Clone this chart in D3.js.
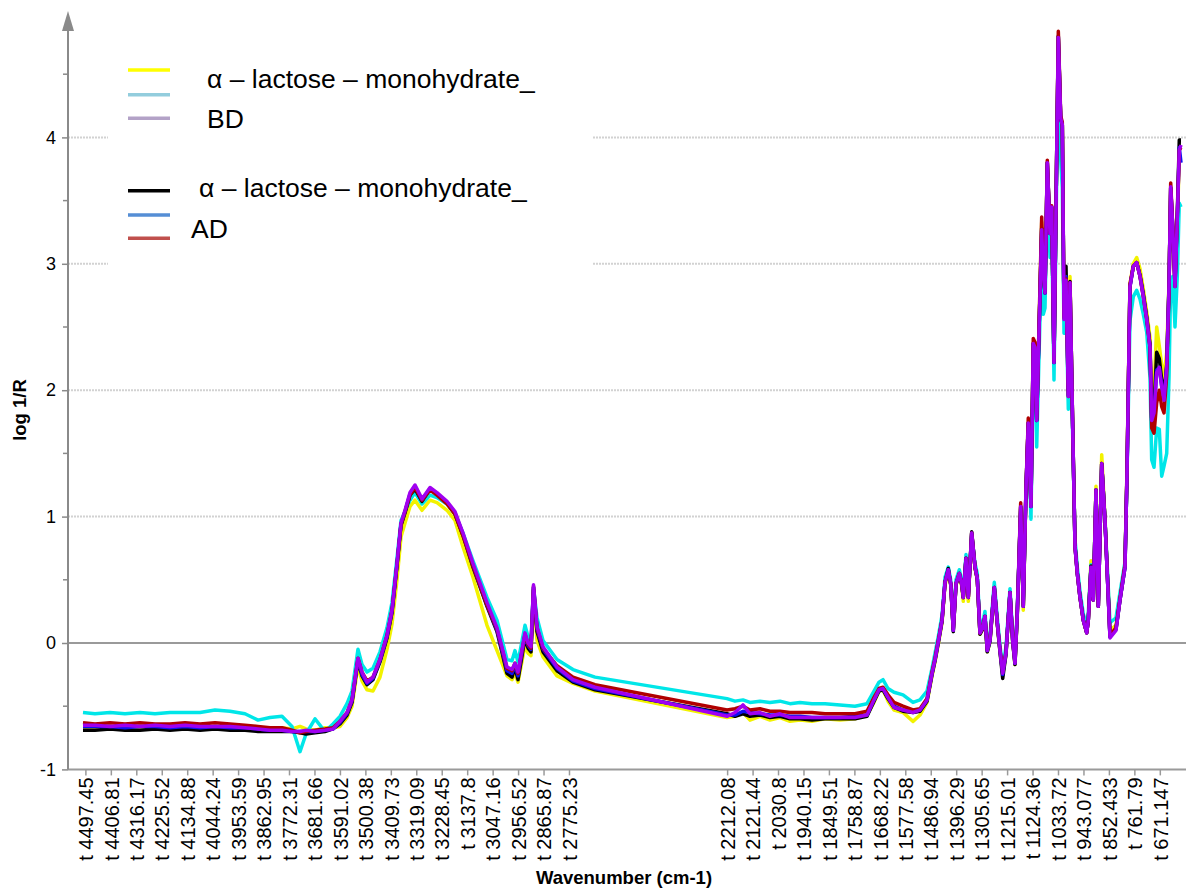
<!DOCTYPE html>
<html>
<head>
<meta charset="utf-8">
<script src="https://d3js.org/d3.v7.min.js"></script>
<style>
  body { margin: 0; background: #fff; }
  svg text { font-family: "Liberation Sans", Arial, sans-serif; }
</style>
</head>
<body>
<svg id="chart" width="1186" height="890"></svg>
<script>
// wavenumber grid (cm-1) shared by all six spectra
const wavenumbers = [
  4506.0, 4463.3, 4409.8, 4356.4, 4303.0, 4249.6, 4196.2, 4142.7, 4089.3, 4035.9,
  3982.5, 3929.1, 3882.8, 3840.0, 3797.3, 3761.7, 3733.2, 3711.8, 3679.8, 3644.2, 3615.7, 3590.8,
  3565.8, 3548.0, 3526.7, 3512.4, 3494.6, 3473.2, 3448.3, 3423.4, 3405.6, 3387.8, 3373.5, 3359.2,
  3341.4, 3323.6, 3298.7, 3270.2, 3245.3, 3209.7, 3181.2, 3152.7, 3117.1, 3067.2, 3031.6,
  2996.0, 2978.2, 2967.5, 2956.8, 2931.9, 2921.2, 2910.6, 2901.6, 2889.2, 2867.8, 2818.0, 2761.0, 2682.6,
  2212.5, 2184.0, 2155.6, 2130.6, 2095.0, 2059.4, 2023.8, 1988.2, 1952.6, 1909.8, 1863.5, 1810.1, 1756.7, 1714.0,
  1689.0, 1671.2, 1657.0, 1639.2, 1617.8, 1585.7, 1550.1, 1525.2, 1500.2, 1482.4, 1471.7, 1459.3,
  1446.8, 1436.1, 1424.4, 1415.8, 1406.6, 1397.0, 1385.2, 1376.7, 1371.0, 1361.4, 1353.2, 1341.1,
  1329.3, 1321.2, 1311.6, 1302.0, 1293.8, 1285.6, 1276.0, 1260.6, 1249.9, 1240.3, 1230.7, 1219.0,
  1204.7, 1195.1, 1186.9, 1178.7, 1166.6, 1157.4, 1147.8, 1139.6, 1130.0, 1121.8, 1115.7, 1109.6,
  1091.8, 1086.1, 1080.0, 1071.8, 1062.2, 1056.2, 1048.0, 1038.3, 1032.6, 1024.1, 1018.4, 1012.3,
  1005.2, 997.0, 991.0, 981.3, 973.1, 964.9, 955.3, 943.6, 931.5, 925.8, 916.2, 908.0,
  898.4, 890.2, 878.1, 866.4, 848.6, 827.2, 813.0, 795.2, 788.1, 777.4, 765.6, 753.5,
  741.7, 729.9, 717.8, 706.1, 700.1, 691.8, 682.3, 673.0, 664.4, 656.2, 646.6, 638.4,
  632.4, 625.3, 617.1, 608.9, 601.8, 595.7
];

// BD replicates (log 1/R)
const bd1 = [
  -0.68, -0.68, -0.67, -0.68, -0.67, -0.68, -0.68, -0.67, -0.68, -0.67,
  -0.68, -0.68, -0.68, -0.69, -0.67, -0.68, -0.66, -0.68, -0.69, -0.67, -0.67, -0.66,
  -0.59, -0.50, -0.18, -0.30, -0.37, -0.38, -0.27, -0.05, 0.15, 0.50, 0.84, 0.95,
  1.08, 1.13, 1.05, 1.13, 1.11, 1.05, 0.97, 0.76, 0.52, 0.14, -0.06,
  -0.26, -0.29, -0.24, -0.31, -0.02, -0.08, -0.10, 0.40, 0.02, -0.11, -0.26, -0.32, -0.38,
  -0.59, -0.58, -0.55, -0.61, -0.58, -0.61, -0.59, -0.62, -0.61, -0.62, -0.60, -0.61, -0.60, -0.57,
  -0.47, -0.38, -0.37, -0.46, -0.53, -0.55, -0.62, -0.57, -0.47, -0.26, -0.15, 0.00,
  0.16, 0.46, 0.56, 0.46, 0.11, 0.46, 0.54, 0.45, 0.33, 0.66, 0.33, 0.87,
  0.59, 0.50, 0.07, 0.11, 0.20, -0.07, 0.01, 0.43, 0.15, -0.07, -0.25, -0.09,
  0.40, 0.01, -0.17, 0.22, 1.06, 0.26, 1.19, 1.72, 1.07, 2.36, 2.33, 1.75,
  3.33, 2.93, 2.77, 3.78, 3.22, 3.43, 2.21, 3.87, 4.78, 4.14, 4.09, 2.55,
  2.88, 1.94, 2.90, 1.68, 0.78, 0.56, 0.37, 0.19, 0.09, 0.19, 0.65, 0.36,
  1.24, 0.30, 1.49, 0.99, 0.10, 0.14, 0.36, 0.62, 1.35, 2.84, 3.00, 3.05,
  2.96, 2.80, 2.62, 2.42, 1.90, 2.00, 2.50, 2.35, 2.20, 2.10, 2.30, 2.85,
  3.55, 3.25, 2.90, 3.30, 3.85, 3.85
];
const bd2 = [
  -0.55, -0.56, -0.55, -0.56, -0.55, -0.56, -0.55, -0.55, -0.55, -0.53,
  -0.54, -0.56, -0.61, -0.59, -0.58, -0.66, -0.86, -0.72, -0.60, -0.70, -0.64, -0.58,
  -0.48, -0.38, -0.05, -0.17, -0.23, -0.20, -0.07, 0.12, 0.32, 0.67, 0.97, 1.04,
  1.13, 1.19, 1.10, 1.17, 1.15, 1.10, 1.02, 0.87, 0.65, 0.36, 0.18,
  -0.13, -0.14, -0.06, -0.15, 0.14, 0.05, 0.02, 0.44, 0.20, 0.02, -0.13, -0.21, -0.27,
  -0.44, -0.46, -0.45, -0.47, -0.46, -0.47, -0.46, -0.48, -0.47, -0.48, -0.48, -0.49, -0.50, -0.48,
  -0.38, -0.31, -0.29, -0.36, -0.39, -0.41, -0.47, -0.45, -0.38, -0.20, -0.08, 0.06,
  0.22, 0.52, 0.60, 0.50, 0.14, 0.50, 0.58, 0.50, 0.39, 0.70, 0.39, 0.85,
  0.63, 0.55, 0.12, 0.16, 0.25, -0.02, 0.06, 0.48, 0.20, -0.02, -0.19, -0.03,
  0.43, 0.06, -0.12, 0.28, 1.04, 0.32, 1.18, 1.70, 0.98, 2.20, 2.15, 1.55,
  3.10, 2.60, 2.65, 3.60, 3.05, 3.30, 2.08, 3.70, 4.70, 3.82, 3.60, 2.45,
  2.75, 1.85, 2.70, 1.62, 0.82, 0.60, 0.41, 0.23, 0.14, 0.24, 0.62, 0.38,
  1.21, 0.33, 1.40, 0.98, 0.16, 0.20, 0.40, 0.64, 1.30, 2.55, 2.74, 2.79,
  2.72, 2.60, 2.46, 2.10, 1.45, 1.39, 1.70, 1.69, 1.32, 1.40, 1.50, 2.10,
  2.85, 2.90, 2.50, 2.90, 3.48, 3.45
];
const bd3 = [
  -0.65, -0.65, -0.66, -0.65, -0.66, -0.65, -0.66, -0.65, -0.66, -0.66,
  -0.66, -0.67, -0.68, -0.69, -0.69, -0.70, -0.70, -0.69, -0.70, -0.69, -0.68, -0.62,
  -0.55, -0.45, -0.12, -0.23, -0.31, -0.27, -0.13, 0.06, 0.26, 0.63, 0.95, 1.05,
  1.19, 1.25, 1.14, 1.23, 1.19, 1.12, 1.04, 0.87, 0.63, 0.32, 0.12,
  -0.19, -0.21, -0.16, -0.23, 0.08, 0.00, -0.03, 0.46, 0.13, -0.03, -0.19, -0.29, -0.35,
  -0.58, -0.55, -0.49, -0.56, -0.55, -0.58, -0.56, -0.59, -0.59, -0.59, -0.59, -0.59, -0.59, -0.57,
  -0.45, -0.37, -0.36, -0.43, -0.51, -0.53, -0.55, -0.53, -0.45, -0.24, -0.13, 0.02,
  0.18, 0.48, 0.58, 0.47, 0.10, 0.47, 0.55, 0.47, 0.36, 0.67, 0.36, 0.87,
  0.60, 0.51, 0.08, 0.12, 0.21, -0.06, 0.02, 0.44, 0.16, -0.06, -0.24, -0.08,
  0.40, 0.02, -0.16, 0.24, 1.08, 0.29, 1.21, 1.74, 1.08, 2.37, 2.34, 1.76,
  3.27, 2.93, 2.77, 3.80, 3.24, 3.45, 2.22, 3.88, 4.79, 4.15, 4.10, 2.56,
  2.87, 1.95, 2.85, 1.69, 0.76, 0.55, 0.36, 0.18, 0.08, 0.18, 0.60, 0.34,
  1.21, 0.29, 1.42, 0.97, 0.04, 0.10, 0.34, 0.60, 1.32, 2.82, 2.98, 3.01,
  2.90, 2.74, 2.56, 2.34, 1.76, 1.82, 2.14, 2.18, 2.03, 1.92, 2.18, 2.82,
  3.61, 3.29, 2.82, 3.35, 3.90, 3.94
];

// AD replicates (log 1/R)
const ad1 = [
  -0.69, -0.69, -0.68, -0.69, -0.69, -0.68, -0.69, -0.68, -0.69, -0.68,
  -0.69, -0.69, -0.70, -0.70, -0.70, -0.70, -0.71, -0.72, -0.71, -0.70, -0.68, -0.64,
  -0.57, -0.47, -0.14, -0.26, -0.33, -0.29, -0.15, 0.04, 0.24, 0.61, 0.93, 1.03,
  1.17, 1.22, 1.12, 1.22, 1.18, 1.11, 1.02, 0.85, 0.60, 0.29, 0.09,
  -0.24, -0.27, -0.19, -0.29, 0.04, -0.04, -0.07, 0.42, 0.09, -0.07, -0.22, -0.31, -0.37,
  -0.56, -0.58, -0.56, -0.58, -0.57, -0.59, -0.58, -0.60, -0.60, -0.61, -0.60, -0.60, -0.60, -0.58,
  -0.46, -0.38, -0.37, -0.44, -0.51, -0.54, -0.55, -0.54, -0.46, -0.25, -0.14, 0.01,
  0.17, 0.48, 0.59, 0.46, 0.09, 0.46, 0.55, 0.46, 0.36, 0.67, 0.36, 0.88,
  0.60, 0.51, 0.07, 0.11, 0.21, -0.07, 0.01, 0.44, 0.15, -0.07, -0.28, -0.09,
  0.40, 0.01, -0.17, 0.23, 1.08, 0.29, 1.21, 1.74, 1.08, 2.37, 2.34, 1.76,
  3.28, 2.90, 2.77, 3.80, 3.24, 3.45, 2.22, 3.88, 4.80, 4.15, 4.10, 2.60,
  2.98, 2.00, 2.86, 1.70, 0.77, 0.55, 0.36, 0.18, 0.08, 0.18, 0.61, 0.34,
  1.21, 0.29, 1.42, 0.97, 0.05, 0.11, 0.34, 0.60, 1.33, 2.82, 2.98, 3.01,
  2.91, 2.76, 2.58, 2.36, 1.78, 1.85, 2.30, 2.25, 2.08, 1.96, 2.20, 2.84,
  3.60, 3.30, 2.85, 3.40, 3.98, 3.98
];
const ad2 = [
  -0.66, -0.66, -0.66, -0.67, -0.66, -0.66, -0.67, -0.66, -0.67, -0.66,
  -0.67, -0.67, -0.68, -0.69, -0.69, -0.70, -0.70, -0.70, -0.70, -0.69, -0.68, -0.63,
  -0.56, -0.46, -0.13, -0.25, -0.32, -0.28, -0.14, 0.05, 0.25, 0.62, 0.94, 1.04,
  1.18, 1.24, 1.13, 1.22, 1.18, 1.11, 1.03, 0.86, 0.61, 0.30, 0.10,
  -0.22, -0.24, -0.18, -0.26, 0.06, -0.02, -0.05, 0.44, 0.11, -0.05, -0.20, -0.30, -0.36,
  -0.57, -0.57, -0.54, -0.55, -0.56, -0.57, -0.57, -0.58, -0.58, -0.59, -0.59, -0.59, -0.58, -0.57,
  -0.45, -0.37, -0.36, -0.43, -0.50, -0.53, -0.54, -0.53, -0.45, -0.24, -0.13, 0.02,
  0.18, 0.48, 0.58, 0.47, 0.10, 0.47, 0.55, 0.47, 0.36, 0.67, 0.36, 0.87,
  0.60, 0.51, 0.08, 0.12, 0.21, -0.06, 0.02, 0.44, 0.16, -0.06, -0.25, -0.08,
  0.40, 0.02, -0.16, 0.24, 1.08, 0.29, 1.21, 1.74, 1.08, 2.37, 2.34, 1.76,
  3.28, 2.92, 2.77, 3.80, 3.24, 3.45, 2.22, 3.88, 4.80, 4.15, 4.10, 2.58,
  2.90, 1.96, 2.85, 1.69, 0.76, 0.55, 0.36, 0.18, 0.08, 0.18, 0.60, 0.34,
  1.21, 0.29, 1.42, 0.97, 0.05, 0.11, 0.34, 0.60, 1.33, 2.82, 2.98, 3.01,
  2.90, 2.75, 2.57, 2.35, 1.76, 1.80, 2.16, 2.18, 2.03, 1.92, 2.18, 2.82,
  3.60, 3.29, 2.82, 3.36, 3.92, 3.80
];
const ad3 = [
  -0.63, -0.64, -0.63, -0.64, -0.63, -0.64, -0.64, -0.63, -0.64, -0.63,
  -0.64, -0.65, -0.66, -0.67, -0.67, -0.69, -0.71, -0.70, -0.69, -0.68, -0.67, -0.62,
  -0.55, -0.45, -0.12, -0.23, -0.30, -0.27, -0.13, 0.06, 0.26, 0.62, 0.94, 1.04,
  1.17, 1.23, 1.13, 1.21, 1.17, 1.10, 1.02, 0.85, 0.61, 0.30, 0.11,
  -0.20, -0.22, -0.16, -0.24, 0.07, -0.01, -0.04, 0.45, 0.12, -0.04, -0.18, -0.27, -0.33,
  -0.53, -0.52, -0.50, -0.53, -0.52, -0.54, -0.54, -0.55, -0.55, -0.55, -0.56, -0.56, -0.56, -0.54,
  -0.43, -0.36, -0.35, -0.41, -0.47, -0.50, -0.53, -0.52, -0.44, -0.23, -0.12, 0.03,
  0.18, 0.48, 0.57, 0.47, 0.11, 0.47, 0.55, 0.47, 0.36, 0.67, 0.36, 0.87,
  0.60, 0.51, 0.08, 0.12, 0.21, -0.05, 0.03, 0.44, 0.16, -0.05, -0.23, -0.07,
  0.40, 0.03, -0.15, 0.25, 1.11, 0.30, 1.22, 1.78, 1.09, 2.41, 2.38, 1.77,
  3.37, 2.95, 2.78, 3.82, 3.25, 3.46, 2.23, 3.90, 4.84, 4.17, 4.12, 2.57,
  2.88, 1.95, 2.85, 1.69, 0.76, 0.55, 0.36, 0.18, 0.08, 0.18, 0.60, 0.34,
  1.21, 0.29, 1.42, 0.97, 0.06, 0.12, 0.35, 0.62, 1.36, 2.84, 2.98, 3.01,
  2.90, 2.74, 2.56, 2.34, 1.70, 1.66, 1.90, 2.00, 1.87, 1.82, 2.12, 2.80,
  3.64, 3.30, 2.82, 3.38, 3.90, 3.92
];

// category labels printed under the x axis
const xTickLabels = [
  "4497.45", "4406.81", "4316.17", "4225.52", "4134.88", "4044.24", "3953.59", "3862.95",
  "3772.31", "3681.66", "3591.02", "3500.38", "3409.73", "3319.09", "3228.45", "3137.8",
  "3047.16", "2956.52", "2865.87", "2775.23",
  "2212.08", "2121.44", "2030.8", "1940.15", "1849.51", "1758.87", "1668.22", "1577.58",
  "1486.94", "1396.29", "1305.65", "1215.01", "1124.36", "1033.72", "943.077", "852.433",
  "761.79", "671.147"
];
const yTicks = [-1, 0, 1, 2, 3, 4];

// drawing order: last one ends up on top
const series = [
  { values: bd1, color: "#f2f200" },
  { values: bd2, color: "#00e6e8" },
  { values: ad1, color: "#000000" },
  { values: ad2, color: "#1010f0" },
  { values: ad3, color: "#b00000" },
  { values: bd3, color: "#a000f0" }
];

const svg = d3.select("#chart");

const x = d3.scaleLinear().domain([4559.4, 577.9]).range([68, 1186]);
const y = d3.scaleLinear().domain([-1, 5]).range([769.4, 11]);

// dotted gridlines
svg.append("g")
  .selectAll("line")
  .data([1, 2, 3, 4])
  .enter()
  .append("line")
  .attr("x1", 68).attr("x2", 1186)
  .attr("y1", d => y(d)).attr("y2", d => y(d))
  .attr("stroke", "#d2d2d2")
  .attr("stroke-width", 2)
  .attr("stroke-dasharray", "2,1");

// zero line
svg.append("line")
  .attr("x1", 68).attr("x2", 1186)
  .attr("y1", y(0)).attr("y2", y(0))
  .attr("stroke", "#9a9a9a")
  .attr("stroke-width", 2);

// legend background hides the gridlines behind it
svg.append("rect")
  .attr("x", 108).attr("y", 48)
  .attr("width", 484).attr("height", 224)
  .attr("fill", "#fff");

// spectra
const line = d3.line()
  .x((d, i) => x(wavenumbers[i]))
  .y(d => y(d));

svg.append("g")
  .selectAll("path")
  .data(series)
  .enter()
  .append("path")
  .attr("d", d => line(d.values))
  .attr("fill", "none")
  .attr("stroke", d => d.color)
  .attr("stroke-width", 3.5)
  .attr("stroke-linejoin", "round");

// x axis
const xAxis = d3.axisBottom(x)
  .tickValues(xTickLabels.map(Number))
  .tickSize(6)
  .tickFormat((d, i) => "t " + xTickLabels[i]);

const gx = svg.append("g")
  .attr("transform", "translate(0," + y(-1) + ")")
  .call(xAxis);
gx.select(".domain").attr("stroke", "#9a9a9a").attr("stroke-width", 2)
  .attr("d", "M68,0H1186");
gx.selectAll(".tick line").attr("stroke", "#9a9a9a").attr("stroke-width", 1.5);
gx.selectAll(".tick text")
  .attr("transform", "rotate(-90)")
  .attr("x", -8)
  .attr("y", 0)
  .attr("dy", "0.36em")
  .style("text-anchor", "end")
  .style("font-size", "20px")
  .attr("fill", "#000");

// y axis with arrow
const yAxis = d3.axisLeft(y)
  .tickValues(yTicks)
  .tickSize(6)
  .tickFormat(d => String(d));

const gy = svg.append("g")
  .attr("transform", "translate(68,0)")
  .call(yAxis);
gy.select(".domain").attr("stroke", "#8a8a8a").attr("stroke-width", 2)
  .attr("d", "M0," + y(-1) + "V28");
gy.selectAll(".tick line").attr("stroke", "#8a8a8a").attr("stroke-width", 1.5);
gy.selectAll(".tick text")
  .attr("x", -12)
  .style("font-size", "18px")
  .attr("fill", "#000");

// minor ticks at the half units
gy.selectAll(".minor")
  .data([-0.5, 0.5, 1.5, 2.5, 3.5, 4.5])
  .enter()
  .append("line")
  .attr("class", "minor")
  .attr("x1", -5).attr("x2", 0)
  .attr("y1", d => y(d)).attr("y2", d => y(d))
  .attr("stroke", "#8a8a8a")
  .attr("stroke-width", 1.5);

gy.append("path")
  .attr("d", "M0,11L-6,31L6,31Z")
  .attr("fill", "#8a8a8a");

// axis titles
svg.append("text")
  .attr("x", 624).attr("y", 884)
  .attr("text-anchor", "middle")
  .style("font-size", "18.5px")
  .style("font-weight", "bold")
  .text("Wavenumber (cm-1)");

svg.append("text")
  .attr("transform", "translate(26,410) rotate(-90)")
  .attr("text-anchor", "middle")
  .style("font-size", "18.5px")
  .style("font-weight", "bold")
  .text("log 1/R");

// legend
const legendSwatches = [
  { y: 70, color: "#ffff00" },
  { y: 94.7, color: "#93cddd" },
  { y: 118.3, color: "#b3a2c7" },
  { y: 190.7, color: "#000000" },
  { y: 215, color: "#558ed5" },
  { y: 238.3, color: "#c0504d" }
];
const legendTexts = [
  { x: 207, y: 88, text: "α – lactose – monohydrate_" },
  { x: 207, y: 128, text: "BD" },
  { x: 199, y: 197, text: "α – lactose – monohydrate_" },
  { x: 191, y: 238, text: "AD" }
];

const legend = svg.append("g");
legend.selectAll("line")
  .data(legendSwatches)
  .enter()
  .append("line")
  .attr("x1", 128).attr("x2", 170)
  .attr("y1", d => d.y).attr("y2", d => d.y)
  .attr("stroke", d => d.color)
  .attr("stroke-width", 3.5);

legend.selectAll("text")
  .data(legendTexts)
  .enter()
  .append("text")
  .attr("x", d => d.x).attr("y", d => d.y)
  .style("font-size", "26.5px")
  .attr("fill", "#000")
  .text(d => d.text);
</script>
</body>
</html>
